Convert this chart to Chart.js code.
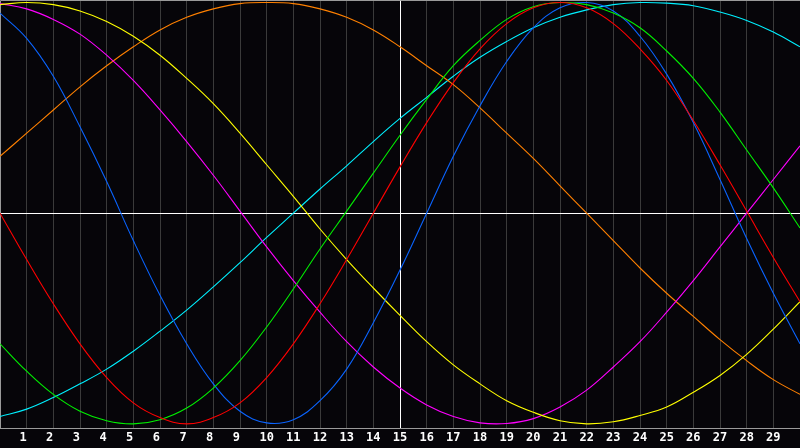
<!DOCTYPE html>
<html>
<head>
<meta charset="utf-8">
<script src="https://cdn.jsdelivr.net/npm/chart.js@4/dist/chart.umd.min.js"></script>
<style>
  html, body { margin: 0; padding: 0; background: #060509; }
  #wrap { width: 800px; height: 448px; position: relative; }
</style>
</head>
<body>
<div id="wrap"><canvas id="c" width="800" height="448"></canvas></div>
<script>
// Day positions (x) and tick days shown on the axis
const days = [0,1,2,3,4,5,6,7,8,9,10,11,12,13,14,15,16,17,18,19,20,21,22,23,24,25,26,27,28,29,30];
const tickDays = [1,2,3,4,5,6,7,8,9,10,11,12,13,14,15,16,17,18,19,20,21,22,23,24,25,26,27,28,29];
const markerDay = 15;

// Series values (one per day 0..30)
const redValues = [0, -0.22, -0.43, -0.62, -0.78, -0.90, -0.97, -1.00, -0.97, -0.90, -0.78, -0.62, -0.43, -0.22, 0, 0.22, 0.43, 0.62, 0.78, 0.90, 0.975, 1.00, 0.975, 0.90, 0.78, 0.63, 0.44, 0.23, 0.01, -0.21, -0.42];
const greenValues = [-0.62, -0.75, -0.86, -0.94, -0.985, -1.00, -0.98, -0.925, -0.83, -0.70, -0.54, -0.36, -0.17, 0.01, 0.19, 0.37, 0.54, 0.70, 0.82, 0.92, 0.98, 1.00, 0.99, 0.95, 0.88, 0.77, 0.64, 0.48, 0.30, 0.12, -0.07];
const blueValues = [0.95, 0.83, 0.65, 0.41, 0.15, -0.13, -0.39, -0.62, -0.81, -0.94, -0.995, -0.98, -0.89, -0.74, -0.52, -0.27, 0.00, 0.27, 0.51, 0.72, 0.88, 0.975, 1.00, 0.96, 0.84, 0.66, 0.43, 0.16, -0.12, -0.38, -0.62];
const yellowValues = [0.99, 1.00, 0.99, 0.96, 0.91, 0.84, 0.75, 0.64, 0.52, 0.38, 0.23, 0.08, -0.075, -0.22, -0.355, -0.485, -0.61, -0.72, -0.81, -0.89, -0.945, -0.985, -1.00, -0.99, -0.96, -0.92, -0.85, -0.77, -0.67, -0.55, -0.42];
const magentaValues = [0.995, 0.97, 0.92, 0.85, 0.75, 0.63, 0.49, 0.34, 0.18, 0.01, -0.16, -0.32, -0.47, -0.61, -0.73, -0.83, -0.91, -0.965, -0.995, -0.998, -0.975, -0.92, -0.84, -0.73, -0.61, -0.47, -0.32, -0.16, 0.00, 0.16, 0.32];
const orangeValues = [0.27, 0.38, 0.49, 0.60, 0.70, 0.79, 0.87, 0.93, 0.97, 0.995, 1.00, 0.995, 0.97, 0.93, 0.87, 0.79, 0.70, 0.61, 0.50, 0.38, 0.26, 0.13, 0.00, -0.13, -0.26, -0.38, -0.49, -0.60, -0.70, -0.79, -0.86];
const cyanValues = [-0.965, -0.93, -0.875, -0.81, -0.74, -0.655, -0.56, -0.46, -0.35, -0.235, -0.115, 0.00, 0.115, 0.225, 0.34, 0.45, 0.55, 0.65, 0.74, 0.815, 0.88, 0.93, 0.965, 0.99, 1.00, 0.997, 0.985, 0.955, 0.915, 0.86, 0.79];

const seriesList = [
  { values: redValues, color: '#ff0000' },
  { values: greenValues, color: '#00f000' },
  { values: blueValues, color: '#0a64ff' },
  { values: yellowValues, color: '#ffff00' },
  { values: magentaValues, color: '#ff00ff' },
  { values: orangeValues, color: '#ff8000' },
  { values: cyanValues, color: '#00f0ff' }
];

const BG = '#060509';
const GRID = '#3a3a3a';
const FRAME = '#9a9a9a';

const framePlugin = {
  id: 'frame',
  beforeDraw(chart) {
    const ctx = chart.ctx;
    ctx.save();
    ctx.fillStyle = BG;
    ctx.fillRect(0, 0, chart.width, chart.height);
    ctx.restore();
  },
  beforeDatasetsDraw(chart) {
    const ctx = chart.ctx;
    const a = chart.chartArea;
    ctx.save();
    ctx.strokeStyle = FRAME;
    ctx.lineWidth = 1;
    ctx.beginPath();
    const b = Math.round(a.bottom) + 0.5;
    ctx.moveTo(0.5, b);
    ctx.lineTo(0.5, 0.5);
    ctx.lineTo(chart.width, 0.5);
    ctx.moveTo(0, b);
    ctx.lineTo(chart.width, b);
    ctx.stroke();
    ctx.restore();
  }
};

new Chart(document.getElementById('c'), {
  type: 'line',
  data: {
    datasets: seriesList.map(s => ({
      data: days.map((d, i) => ({ x: d, y: s.values[i] })),
      borderColor: s.color,
      backgroundColor: s.color,
      borderWidth: 1.1,
      pointRadius: 0,
      tension: 0.4,
      fill: false
    }))
  },
  options: {
    responsive: false,
    animation: false,
    devicePixelRatio: 1,
    layout: { padding: 0 },
    plugins: { legend: { display: false }, tooltip: { enabled: false } },
    scales: {
      x: {
        type: 'linear',
        min: 0,
        max: 30,
        afterBuildTicks: (scale) => { scale.ticks = tickDays.map(v => ({ value: v })); },
        border: { display: false },
        grid: {
          drawTicks: false,
          lineWidth: 1,
          color: (ctx) => (ctx.tick && ctx.tick.value === markerDay) ? '#ffffff' : GRID
        },
        ticks: {
          autoSkip: false,
          maxRotation: 0,
          padding: 5,
          color: '#ffffff',
          font: { family: 'DejaVu Sans Mono', size: 12, weight: 'bold', lineHeight: 0.825 },
          callback: (v) => { const s = String(v); return s.length === 1 ? s + ' ' : s; }
        }
      },
      y: {
        type: 'linear',
        min: -1.02,
        max: 1.012,
        afterBuildTicks: (scale) => { scale.ticks = [{ value: 0 }]; },
        border: { display: false },
        grid: { drawTicks: false, color: '#ffffff', lineWidth: 1 },
        ticks: { display: false }
      }
    }
  },
  plugins: [framePlugin]
});
</script>
</body>
</html>
